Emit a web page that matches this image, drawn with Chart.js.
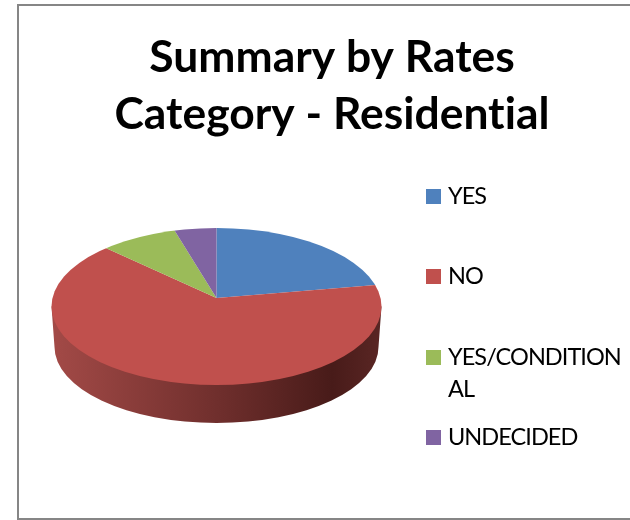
<!DOCTYPE html>
<html>
<head>
<meta charset="utf-8">
<title>Summary by Rates Category - Residential</title>
<script src="https://cdn.jsdelivr.net/npm/chart.js@4"></script>
<style>
    html, body { margin: 0; padding: 0; background: #fff; overflow: hidden; }
    #box { position: absolute; left: 17px; top: 4px; width: 626px; height: 512px; border: 2px solid #868686; }
    #box canvas { display: block; }
</style>
</head>
<body>
<div id="box"><canvas id="chart" width="626" height="512"></canvas></div>
<script>
const categories = ['YES', 'NO', 'YES/CONDITIONAL', 'UNDECIDED'];
const shares = [22, 66, 7.9, 4.1];
const sliceColors = ['#4F81BD', '#C0504D', '#9BBB59', '#8064A2'];
const titleLines = ['Summary by Rates', 'Category - Residential'];

// 3D look: the slices are squashed and clipped to the top face, side wall below it
const pieCenterX = 197.5;
const apexY = 292;
const faceCenterY = 300.5;
const faceRx = 165;
const faceRy = 78.5;
const wallCenterY = 341;
const wallRx = 162;
const wallRy = 76;
const squash = 0.424;

const pie3d = {
    id: 'pie3d',
    beforeDraw(chart) {
        // a tiny spacing keeps the browser from joining "ti" in the title
        chart.ctx.letterSpacing = '0.01px';
    },
    beforeDatasetsDraw(chart) {
        const ctx = chart.ctx;
        const arc = chart.getDatasetMeta(0).data[0];

        // side wall
        const grad = ctx.createLinearGradient(pieCenterX - faceRx, 0, pieCenterX + faceRx, 0);
        grad.addColorStop(0, '#A34A47');
        grad.addColorStop(0.5, '#702F2D');
        grad.addColorStop(0.85, '#481B19');
        grad.addColorStop(1, '#5A2624');
        ctx.save();
        ctx.fillStyle = grad;
        ctx.beginPath();
        ctx.moveTo(pieCenterX - faceRx, faceCenterY);
        ctx.lineTo(pieCenterX - wallRx, wallCenterY);
        ctx.ellipse(pieCenterX, wallCenterY, wallRx, wallRy, 0, Math.PI, 0, true);
        ctx.lineTo(pieCenterX + faceRx, faceCenterY);
        ctx.closePath();
        ctx.fill();
        ctx.restore();

        // top face
        const scale = 240 / arc.outerRadius;
        ctx.save();
        ctx.beginPath();
        ctx.ellipse(pieCenterX, faceCenterY, faceRx, faceRy, 0, 0, Math.PI * 2);
        ctx.clip();
        ctx.translate(pieCenterX, apexY);
        ctx.scale(scale, scale * squash);
        ctx.translate(-arc.x, -arc.y);
    },
    afterDatasetsDraw(chart) {
        chart.ctx.restore();
    }
};

// legend with fixed rows, long labels break inside the word like the original
const legendRows = [183, 263, 344, 424];
const sideLegend = {
    id: 'sideLegend',
    afterDraw(chart) {
        const ctx = chart.ctx;
        ctx.save();
        ctx.font = '23.5px Lato';
        ctx.letterSpacing = '-0.95px';
        ctx.textBaseline = 'alphabetic';
        categories.forEach((name, i) => {
            ctx.fillStyle = sliceColors[i];
            ctx.fillRect(407, legendRows[i], 15, 15);
            ctx.fillStyle = '#000';
            let line = '';
            let y = legendRows[i] + 15;
            for (const ch of name) {
                if (ctx.measureText(line + ch).width > 178) {
                    ctx.fillText(line, 429, y);
                    line = '';
                    y += 32;
                }
                line += ch;
            }
            ctx.fillText(line, 429, y);
        });
        ctx.restore();
    }
};

new Chart(document.getElementById('chart'), {
    type: 'pie',
    data: {
        labels: categories,
        datasets: [{
            data: shares,
            backgroundColor: sliceColors,
            borderWidth: 0,
            clip: false
        }]
    },
    options: {
        responsive: false,
        animation: false,
        layout: { padding: 0 },
        plugins: {
            legend: { display: false },
            tooltip: { enabled: false },
            title: {
                display: true,
                text: titleLines,
                color: '#000',
                font: { family: 'Lato', size: 44.4, weight: 'bold', lineHeight: 1.29 },
                padding: { top: 23, bottom: 10 }
            }
        }
    },
    plugins: [pie3d, sideLegend]
});
</script>
</body>
</html>
